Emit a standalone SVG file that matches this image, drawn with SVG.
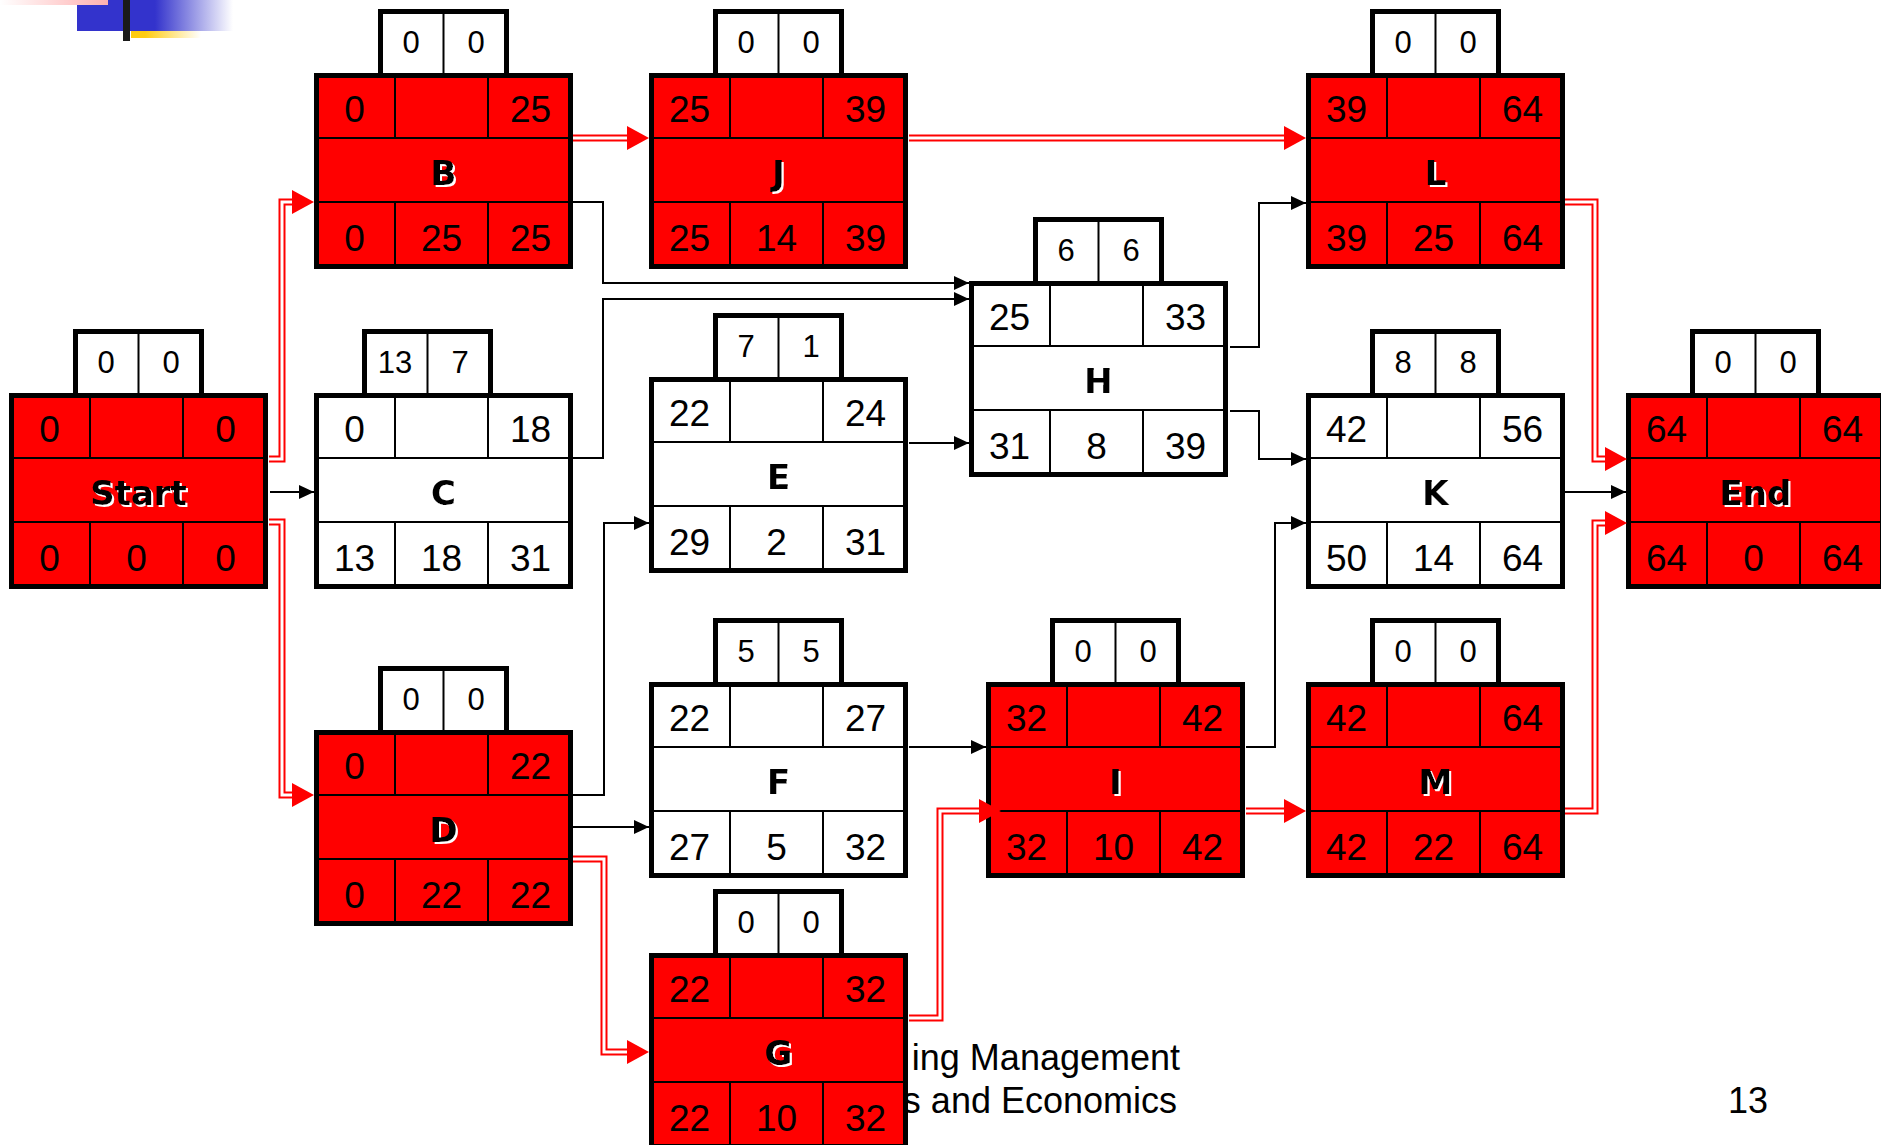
<svg xmlns="http://www.w3.org/2000/svg" width="1881" height="1145" viewBox="0 0 1881 1145">
<defs>
<style>
.sb{fill:#fff;stroke:#000;stroke-width:5}
.bx{stroke:#000;stroke-width:5}
.red{fill:#f00}
.wht{fill:#fff}
.dv{fill:none;stroke:#000;stroke-width:2}
.n{font-family:"Liberation Sans",Arial,sans-serif;font-size:37px;text-anchor:middle;fill:#000}
.s{font-size:31px}
.nm{font-family:"DejaVu Sans",Verdana,sans-serif;font-weight:bold;font-size:34px;text-anchor:middle;fill:#000}
.ln{fill:none;stroke:#000;stroke-width:2;marker-end:url(#ab)}
.rd{fill:none;stroke:#f00;stroke-width:7;marker-end:url(#ar)}
.rw{fill:none;stroke:#fff;stroke-width:3}
.ft{font-family:"Liberation Sans",Arial,sans-serif;font-size:36px;fill:#000}
</style>
<filter id="sh" x="-20%" y="-20%" width="140%" height="140%">
<feOffset in="SourceAlpha" dx="2" dy="2" result="o"/>
<feFlood flood-color="#fff"/>
<feComposite in2="o" operator="in" result="s"/>
<feMerge><feMergeNode in="s"/><feMergeNode in="SourceGraphic"/></feMerge>
</filter>
<marker id="ab" markerUnits="userSpaceOnUse" viewBox="0 0 15 14" markerWidth="15" markerHeight="14" refX="15" refY="7" orient="auto"><path d="M0,0L15,7L0,14z" fill="#000"/></marker>
<marker id="ar" markerUnits="userSpaceOnUse" viewBox="0 0 22 24" markerWidth="22" markerHeight="24" refX="0" refY="12" orient="auto"><path d="M0,0L22,12L0,24z" fill="#f00"/></marker>
<linearGradient id="gp" x1="0" y1="0" x2="1" y2="0"><stop offset="0" stop-color="#fff"/><stop offset="1" stop-color="#ffb0b0"/></linearGradient>
<linearGradient id="gb" x1="0" y1="0" x2="1" y2="0"><stop offset="0.5" stop-color="#3333cc"/><stop offset="1" stop-color="#fff"/></linearGradient>
<linearGradient id="gy" x1="0" y1="0" x2="1" y2="0"><stop offset="0.2" stop-color="#ffcc11"/><stop offset="1" stop-color="#fff"/></linearGradient>
</defs>
<rect width="1881" height="1145" fill="#fff"/>
<g id="logo">
<rect x="77" y="0" width="156" height="31" fill="url(#gb)"/>
<rect x="0" y="0" width="108" height="5" fill="url(#gp)"/>
<rect x="131" y="31" width="70" height="7" fill="url(#gy)"/>
<rect x="123" y="0" width="7" height="41" fill="#1a1a1a"/>
</g>
<g id="footer">
<text class="ft" x="1180" y="1070" text-anchor="end">ing Management</text>
<text class="ft" x="1177" y="1113" text-anchor="end">s and Economics</text>
<text class="ft" x="1768" y="1113" text-anchor="end">13</text>
</g>
<g id="nodes">
<g id="node-Start" transform="translate(9,393)">
<rect class="sb" x="66.5" y="-61.5" width="126" height="64"/><line class="dv" x1="129.5" y1="-62" x2="129.5" y2="0"/>
<text class="n s" x="97" y="-20">0</text><text class="n s" x="162" y="-20">0</text>
<rect class="bx red" x="2.5" y="2.5" width="254" height="191"/>
<path class="dv" d="M0,65H259M0,129H259M81,0V65M174,0V65M81,129V196M174,129V196"/>
<text class="n" x="40.5" y="49">0</text><text class="n" x="216.5" y="49">0</text>
<text class="nm" x="129.5" y="112" filter="url(#sh)">Start</text>
<text class="n" x="40.5" y="178">0</text><text class="n" x="127.5" y="178">0</text><text class="n" x="216.5" y="178">0</text>
</g>
<g id="node-B" transform="translate(314,73)">
<rect class="sb" x="66.5" y="-61.5" width="126" height="64"/><line class="dv" x1="129.5" y1="-62" x2="129.5" y2="0"/>
<text class="n s" x="97" y="-20">0</text><text class="n s" x="162" y="-20">0</text>
<rect class="bx red" x="2.5" y="2.5" width="254" height="191"/>
<path class="dv" d="M0,65H259M0,129H259M81,0V65M174,0V65M81,129V196M174,129V196"/>
<text class="n" x="40.5" y="49">0</text><text class="n" x="216.5" y="49">25</text>
<text class="nm" x="129.5" y="112" filter="url(#sh)">B</text>
<text class="n" x="40.5" y="178">0</text><text class="n" x="127.5" y="178">25</text><text class="n" x="216.5" y="178">25</text>
</g>
<g id="node-C" transform="translate(314,393)">
<rect class="sb" x="50.5" y="-61.5" width="126" height="64"/><line class="dv" x1="113.5" y1="-62" x2="113.5" y2="0"/>
<text class="n s" x="81" y="-20">13</text><text class="n s" x="146" y="-20">7</text>
<rect class="bx wht" x="2.5" y="2.5" width="254" height="191"/>
<path class="dv" d="M0,65H259M0,129H259M81,0V65M174,0V65M81,129V196M174,129V196"/>
<text class="n" x="40.5" y="49">0</text><text class="n" x="216.5" y="49">18</text>
<text class="nm" x="129.5" y="112" filter="url(#sh)">C</text>
<text class="n" x="40.5" y="178">13</text><text class="n" x="127.5" y="178">18</text><text class="n" x="216.5" y="178">31</text>
</g>
<g id="node-D" transform="translate(314,730)">
<rect class="sb" x="66.5" y="-61.5" width="126" height="64"/><line class="dv" x1="129.5" y1="-62" x2="129.5" y2="0"/>
<text class="n s" x="97" y="-20">0</text><text class="n s" x="162" y="-20">0</text>
<rect class="bx red" x="2.5" y="2.5" width="254" height="191"/>
<path class="dv" d="M0,65H259M0,129H259M81,0V65M174,0V65M81,129V196M174,129V196"/>
<text class="n" x="40.5" y="49">0</text><text class="n" x="216.5" y="49">22</text>
<text class="nm" x="129.5" y="112" filter="url(#sh)">D</text>
<text class="n" x="40.5" y="178">0</text><text class="n" x="127.5" y="178">22</text><text class="n" x="216.5" y="178">22</text>
</g>
<g id="node-J" transform="translate(649,73)">
<rect class="sb" x="66.5" y="-61.5" width="126" height="64"/><line class="dv" x1="129.5" y1="-62" x2="129.5" y2="0"/>
<text class="n s" x="97" y="-20">0</text><text class="n s" x="162" y="-20">0</text>
<rect class="bx red" x="2.5" y="2.5" width="254" height="191"/>
<path class="dv" d="M0,65H259M0,129H259M81,0V65M174,0V65M81,129V196M174,129V196"/>
<text class="n" x="40.5" y="49">25</text><text class="n" x="216.5" y="49">39</text>
<text class="nm" x="129.5" y="112" filter="url(#sh)">J</text>
<text class="n" x="40.5" y="178">25</text><text class="n" x="127.5" y="178">14</text><text class="n" x="216.5" y="178">39</text>
</g>
<g id="node-E" transform="translate(649,377)">
<rect class="sb" x="66.5" y="-61.5" width="126" height="64"/><line class="dv" x1="129.5" y1="-62" x2="129.5" y2="0"/>
<text class="n s" x="97" y="-20">7</text><text class="n s" x="162" y="-20">1</text>
<rect class="bx wht" x="2.5" y="2.5" width="254" height="191"/>
<path class="dv" d="M0,65H259M0,129H259M81,0V65M174,0V65M81,129V196M174,129V196"/>
<text class="n" x="40.5" y="49">22</text><text class="n" x="216.5" y="49">24</text>
<text class="nm" x="129.5" y="112" filter="url(#sh)">E</text>
<text class="n" x="40.5" y="178">29</text><text class="n" x="127.5" y="178">2</text><text class="n" x="216.5" y="178">31</text>
</g>
<g id="node-F" transform="translate(649,682)">
<rect class="sb" x="66.5" y="-61.5" width="126" height="64"/><line class="dv" x1="129.5" y1="-62" x2="129.5" y2="0"/>
<text class="n s" x="97" y="-20">5</text><text class="n s" x="162" y="-20">5</text>
<rect class="bx wht" x="2.5" y="2.5" width="254" height="191"/>
<path class="dv" d="M0,65H259M0,129H259M81,0V65M174,0V65M81,129V196M174,129V196"/>
<text class="n" x="40.5" y="49">22</text><text class="n" x="216.5" y="49">27</text>
<text class="nm" x="129.5" y="112" filter="url(#sh)">F</text>
<text class="n" x="40.5" y="178">27</text><text class="n" x="127.5" y="178">5</text><text class="n" x="216.5" y="178">32</text>
</g>
<g id="node-G" transform="translate(649,953)">
<rect class="sb" x="66.5" y="-61.5" width="126" height="64"/><line class="dv" x1="129.5" y1="-62" x2="129.5" y2="0"/>
<text class="n s" x="97" y="-20">0</text><text class="n s" x="162" y="-20">0</text>
<rect class="bx red" x="2.5" y="2.5" width="254" height="191"/>
<path class="dv" d="M0,65H259M0,129H259M81,0V65M174,0V65M81,129V196M174,129V196"/>
<text class="n" x="40.5" y="49">22</text><text class="n" x="216.5" y="49">32</text>
<text class="nm" x="129.5" y="112" filter="url(#sh)">G</text>
<text class="n" x="40.5" y="178">22</text><text class="n" x="127.5" y="178">10</text><text class="n" x="216.5" y="178">32</text>
</g>
<g id="node-H" transform="translate(969,281)">
<rect class="sb" x="66.5" y="-61.5" width="126" height="64"/><line class="dv" x1="129.5" y1="-62" x2="129.5" y2="0"/>
<text class="n s" x="97" y="-20">6</text><text class="n s" x="162" y="-20">6</text>
<rect class="bx wht" x="2.5" y="2.5" width="254" height="191"/>
<path class="dv" d="M0,65H259M0,129H259M81,0V65M174,0V65M81,129V196M174,129V196"/>
<text class="n" x="40.5" y="49">25</text><text class="n" x="216.5" y="49">33</text>
<text class="nm" x="129.5" y="112" filter="url(#sh)">H</text>
<text class="n" x="40.5" y="178">31</text><text class="n" x="127.5" y="178">8</text><text class="n" x="216.5" y="178">39</text>
</g>
<g id="node-I" transform="translate(986,682)">
<rect class="sb" x="66.5" y="-61.5" width="126" height="64"/><line class="dv" x1="129.5" y1="-62" x2="129.5" y2="0"/>
<text class="n s" x="97" y="-20">0</text><text class="n s" x="162" y="-20">0</text>
<rect class="bx red" x="2.5" y="2.5" width="254" height="191"/>
<path class="dv" d="M0,65H259M0,129H259M81,0V65M174,0V65M81,129V196M174,129V196"/>
<text class="n" x="40.5" y="49">32</text><text class="n" x="216.5" y="49">42</text>
<text class="nm" x="129.5" y="112" filter="url(#sh)">I</text>
<text class="n" x="40.5" y="178">32</text><text class="n" x="127.5" y="178">10</text><text class="n" x="216.5" y="178">42</text>
</g>
<g id="node-L" transform="translate(1306,73)">
<rect class="sb" x="66.5" y="-61.5" width="126" height="64"/><line class="dv" x1="129.5" y1="-62" x2="129.5" y2="0"/>
<text class="n s" x="97" y="-20">0</text><text class="n s" x="162" y="-20">0</text>
<rect class="bx red" x="2.5" y="2.5" width="254" height="191"/>
<path class="dv" d="M0,65H259M0,129H259M81,0V65M174,0V65M81,129V196M174,129V196"/>
<text class="n" x="40.5" y="49">39</text><text class="n" x="216.5" y="49">64</text>
<text class="nm" x="129.5" y="112" filter="url(#sh)">L</text>
<text class="n" x="40.5" y="178">39</text><text class="n" x="127.5" y="178">25</text><text class="n" x="216.5" y="178">64</text>
</g>
<g id="node-K" transform="translate(1306,393)">
<rect class="sb" x="66.5" y="-61.5" width="126" height="64"/><line class="dv" x1="129.5" y1="-62" x2="129.5" y2="0"/>
<text class="n s" x="97" y="-20">8</text><text class="n s" x="162" y="-20">8</text>
<rect class="bx wht" x="2.5" y="2.5" width="254" height="191"/>
<path class="dv" d="M0,65H259M0,129H259M81,0V65M174,0V65M81,129V196M174,129V196"/>
<text class="n" x="40.5" y="49">42</text><text class="n" x="216.5" y="49">56</text>
<text class="nm" x="129.5" y="112" filter="url(#sh)">K</text>
<text class="n" x="40.5" y="178">50</text><text class="n" x="127.5" y="178">14</text><text class="n" x="216.5" y="178">64</text>
</g>
<g id="node-M" transform="translate(1306,682)">
<rect class="sb" x="66.5" y="-61.5" width="126" height="64"/><line class="dv" x1="129.5" y1="-62" x2="129.5" y2="0"/>
<text class="n s" x="97" y="-20">0</text><text class="n s" x="162" y="-20">0</text>
<rect class="bx red" x="2.5" y="2.5" width="254" height="191"/>
<path class="dv" d="M0,65H259M0,129H259M81,0V65M174,0V65M81,129V196M174,129V196"/>
<text class="n" x="40.5" y="49">42</text><text class="n" x="216.5" y="49">64</text>
<text class="nm" x="129.5" y="112" filter="url(#sh)">M</text>
<text class="n" x="40.5" y="178">42</text><text class="n" x="127.5" y="178">22</text><text class="n" x="216.5" y="178">64</text>
</g>
<g id="node-End" transform="translate(1626,393)">
<rect class="sb" x="66.5" y="-61.5" width="126" height="64"/><line class="dv" x1="129.5" y1="-62" x2="129.5" y2="0"/>
<text class="n s" x="97" y="-20">0</text><text class="n s" x="162" y="-20">0</text>
<rect class="bx red" x="2.5" y="2.5" width="254" height="191"/>
<path class="dv" d="M0,65H259M0,129H259M81,0V65M174,0V65M81,129V196M174,129V196"/>
<text class="n" x="40.5" y="49">64</text><text class="n" x="216.5" y="49">64</text>
<text class="nm" x="129.5" y="112" filter="url(#sh)">End</text>
<text class="n" x="40.5" y="178">64</text><text class="n" x="127.5" y="178">0</text><text class="n" x="216.5" y="178">64</text>
</g>
</g>
<g id="connectors">
<path class="ln" d="M270,492H314"/>
<path class="ln" d="M573,202H603V283H969"/>
<path class="ln" d="M573,458H603V299H969"/>
<path class="ln" d="M909,443H969"/>
<path class="ln" d="M573,795H604V523H649"/>
<path class="ln" d="M573,827H649"/>
<path class="ln" d="M909,747H986"/>
<path class="ln" d="M1246,747H1275V523H1306"/>
<path class="ln" d="M1230,347H1259V203H1306"/>
<path class="ln" d="M1230,411H1259V459H1306"/>
<path class="ln" d="M1565,492H1626"/>
<path class="rd" d="M269,459H282V202H292"/><path class="rw" d="M269,459H282V202H292"/>
<path class="rd" d="M269,522H282V795H292"/><path class="rw" d="M269,522H282V795H292"/>
<path class="rd" d="M573,138H627"/><path class="rw" d="M573,138H627"/>
<path class="rd" d="M909,138H1284"/><path class="rw" d="M909,138H1284"/>
<path class="rd" d="M573,859H604V1052H627"/><path class="rw" d="M573,859H604V1052H627"/>
<path class="rd" d="M909,1018H940V811H979"/><path class="rw" d="M909,1018H940V811H979"/>
<path class="rd" d="M1246,811H1284"/><path class="rw" d="M1246,811H1284"/>
<path class="rd" d="M1565,202H1595V459H1605"/><path class="rw" d="M1565,202H1595V459H1605"/>
<path class="rd" d="M1565,811H1595V523H1605"/><path class="rw" d="M1565,811H1595V523H1605"/>
</g>
</svg>
